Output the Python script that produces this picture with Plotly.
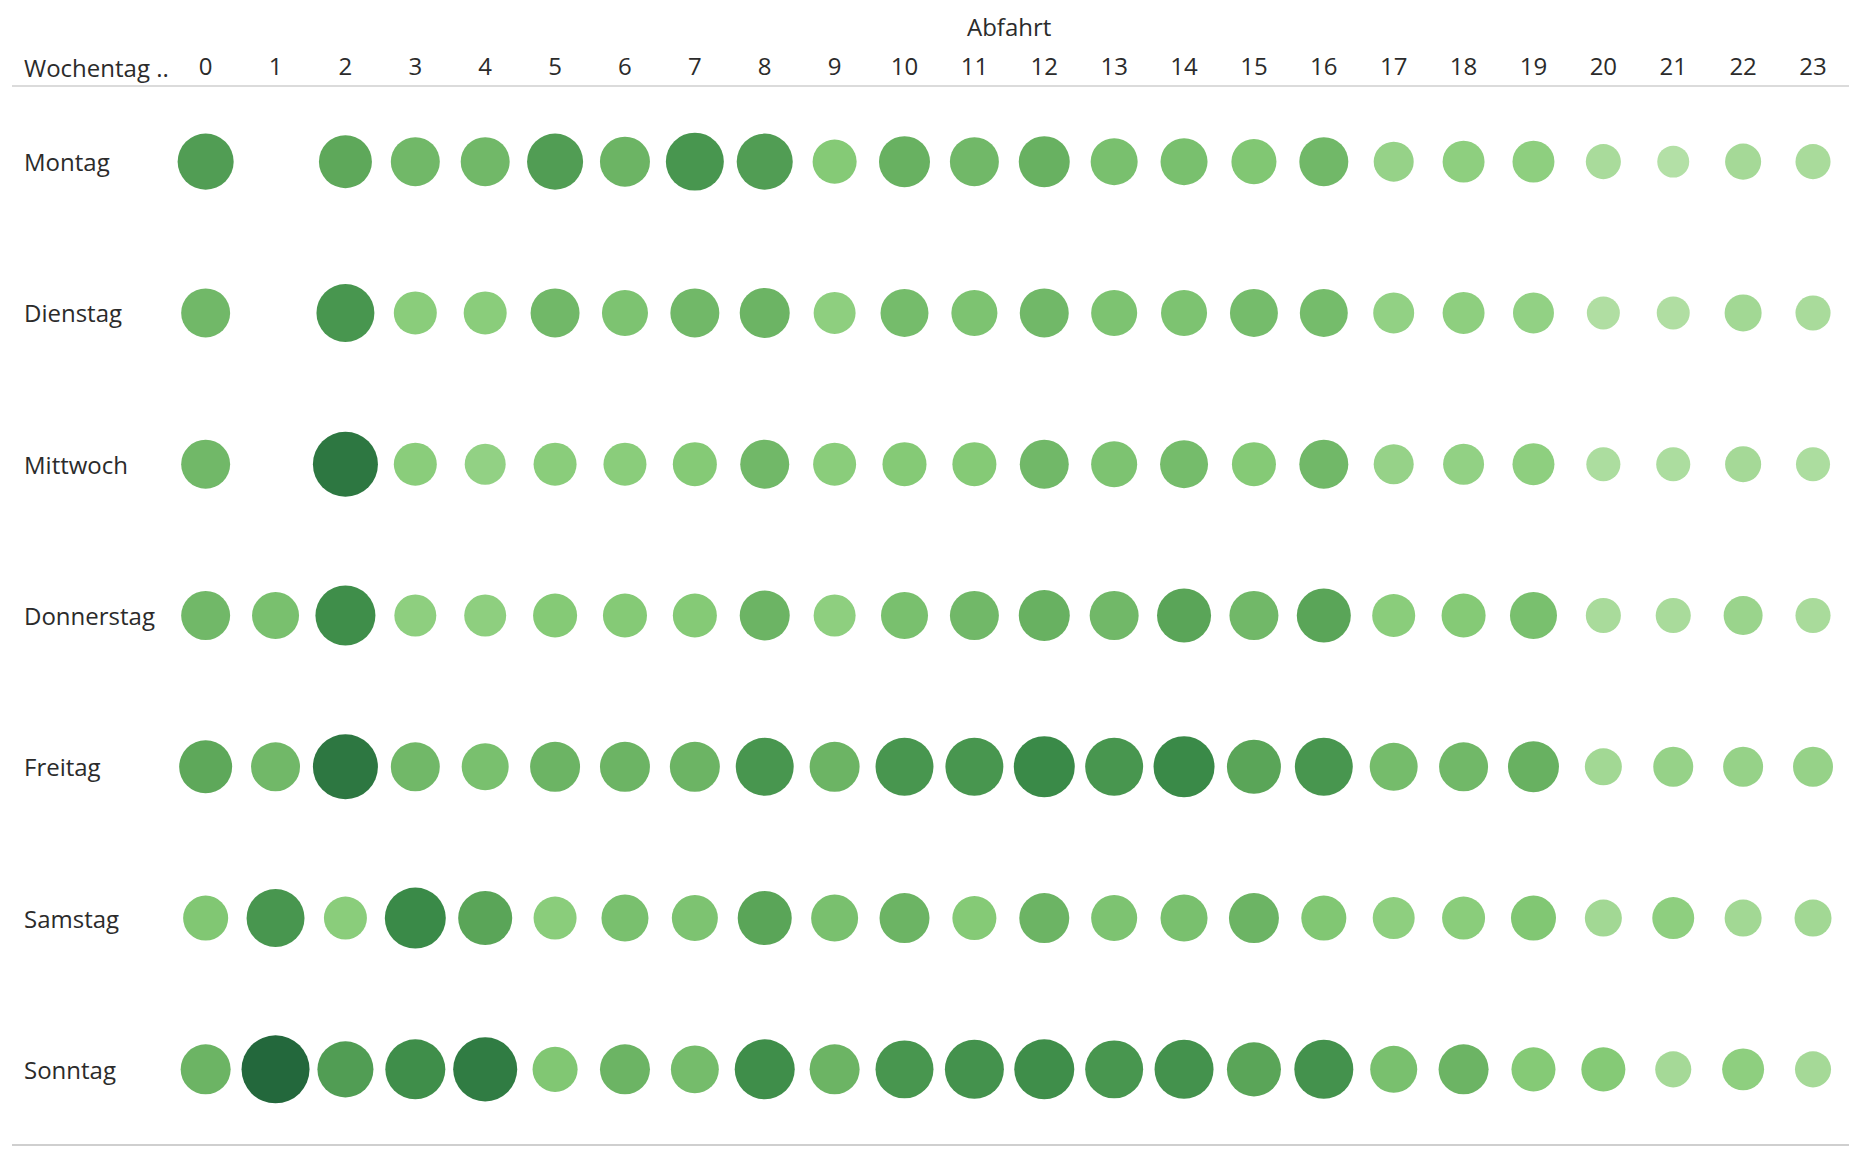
import plotly.graph_objects as go

days = ["Montag", "Dienstag", "Mittwoch", "Donnerstag", "Freitag", "Samstag", "Sonntag"]
hours = list(range(24))

# Anzahl Abfahrten je Wochentag und Stunde (None = keine Daten)
montag     = [314, None, 281, 240, 240, 314, 250, 336, 314, 194, 260, 240, 260, 221, 221, 203, 240, 160, 176, 176, 123, 102, 130, 123]
dienstag   = [240, None, 336, 185, 185, 240, 212, 240, 250, 176, 230, 212, 240, 212, 212, 230, 230, 168, 176, 168, 109, 109, 137, 123]
mittwoch   = [240, None, 423, 185, 168, 185, 185, 194, 240, 185, 194, 194, 240, 212, 230, 194, 240, 160, 168, 176, 116, 116, 130, 116]
donnerstag = [240, 221, 360, 176, 176, 194, 194, 194, 250, 176, 221, 240, 260, 240, 292, 240, 292, 185, 194, 221, 123, 123, 152, 123]
freitag    = [281, 240, 423, 240, 221, 250, 250, 250, 336, 250, 336, 336, 372, 336, 372, 292, 336, 230, 240, 260, 137, 160, 160, 160]
samstag    = [203, 336, 185, 372, 292, 185, 221, 212, 292, 221, 250, 194, 250, 212, 221, 250, 203, 176, 185, 203, 137, 176, 137, 137]
sonntag    = [250, 462, 314, 360, 410, 203, 250, 230, 360, 250, 336, 348, 360, 336, 348, 292, 348, 221, 250, 194, 194, 130, 176, 130]

rows = [montag, dienstag, mittwoch, donnerstag, freitag, samstag, sonntag]

xs, ys, vs = [], [], []
for r, vals in enumerate(rows):
    for h, v in zip(hours, vals):
        if v is None:
            continue
        xs.append(h)
        ys.append(r)
        vs.append(v)

green_scale = [
    [0.0, "#b3e0a6"],
    [0.25, "#86cb77"],
    [0.5, "#5ea85a"],
    [0.75, "#3a8a48"],
    [1.0, "#23683c"],
]

FONT = "Open Sans"
TXT = "#2b2b2b"
FS = 24
LABEL_X = (22 - 12) / 1837  # paper coords relative to plot area

fig = go.Figure()
fig.add_trace(go.Scatter(
    x=xs, y=ys, mode="markers",
    marker=dict(
        size=vs, sizemode="area", sizeref=0.2,
        color=vs, colorscale=green_scale, showscale=False,
        line=dict(width=0), opacity=1,
    ),
    hoverinfo="skip",
))

annotations = []
for r, d in enumerate(days):
    annotations.append(dict(x=LABEL_X, xref="paper", y=r, yref="y", text=d,
                            showarrow=False, xanchor="left", yanchor="middle",
                            font=dict(family=FONT, size=FS, color=TXT)))
annotations.append(dict(x=LABEL_X, xref="paper", y=1, yref="paper", yshift=19,
                        text="Wochentag ..", showarrow=False, xanchor="left", yanchor="middle",
                        font=dict(family=FONT, size=FS, color=TXT)))
annotations.append(dict(x=11.5, xref="x", y=1, yref="paper", yshift=60,
                        text="Abfahrt", showarrow=False, xanchor="center", yanchor="middle",
                        font=dict(family=FONT, size=FS, color=TXT)))

fig.update_layout(
    width=1864, height=1156,
    margin=dict(l=12, r=15, t=86, b=11),
    paper_bgcolor="white", plot_bgcolor="white",
    showlegend=False,
    annotations=annotations,
    shapes=[
        dict(type="line", xref="paper", yref="paper", x0=0, x1=1, y0=1, y1=1,
             line=dict(color="#cfcfcf", width=1.5)),
        dict(type="line", xref="paper", yref="paper", x0=0, x1=1, y0=0, y1=0,
             line=dict(color="#cfcfcf", width=2)),
    ],
    xaxis=dict(range=[-2.771, 23.515], side="top", tickvals=hours,
               ticktext=[str(h) for h in hours], ticks="", showgrid=False,
               zeroline=False, showline=False, ticklabelstandoff=5,
               tickfont=dict(family=FONT, size=FS, color=TXT), fixedrange=True),
    yaxis=dict(range=[6.5, -0.5], showticklabels=False, ticks="", showgrid=False,
               zeroline=False, showline=False, fixedrange=True),
)

fig.write_html("out.html")
